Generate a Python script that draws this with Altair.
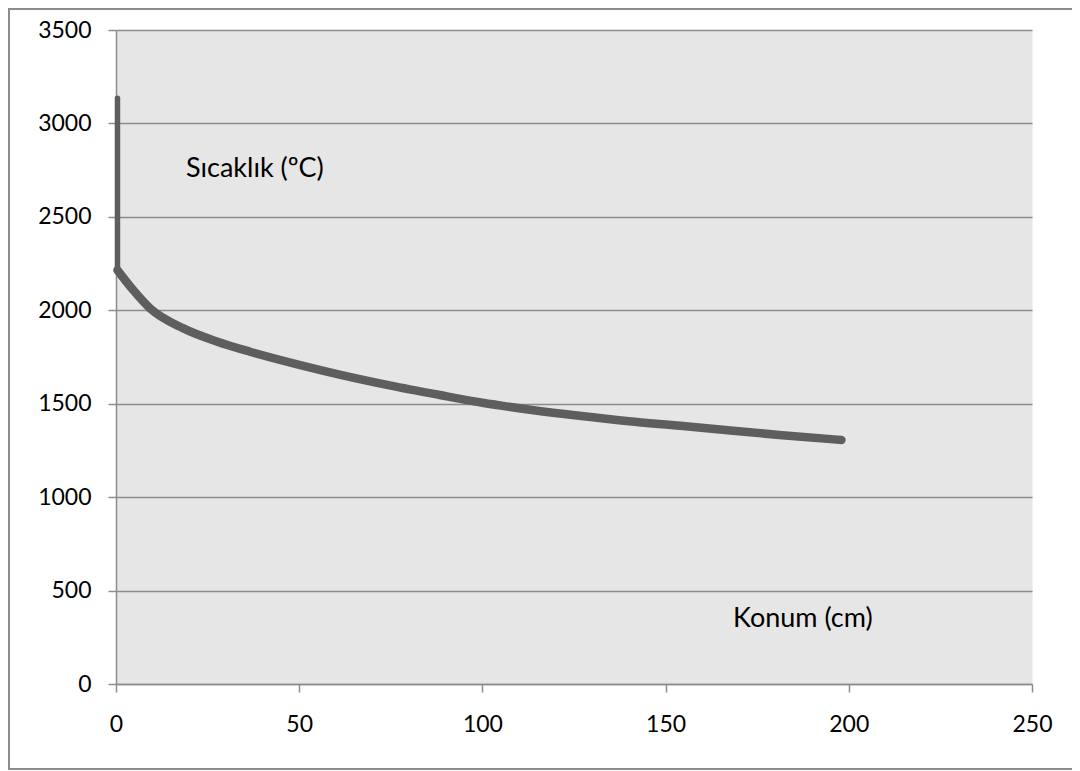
import altair as alt
import pandas as pd

# Data
# vertical start segment (x ~ 0)
dik_konum = [0.4, 0.4]
dik_sicaklik = [3135, 2215]
# decaying curve
konum = [0.4, 4.7, 9.3, 18.4, 27.5, 36.6, 50, 61, 75, 88, 100,
         113, 127, 140, 154, 167, 181, 198]
sicaklik = [2215, 2108, 2010, 1903, 1833, 1778, 1708, 1656, 1597, 1548, 1505,
            1468, 1434, 1406, 1382, 1358, 1333, 1306]
x_ticks = [0, 50, 100, 150, 200, 250]
y_ticks = [0, 500, 1000, 1500, 2000, 2500, 3000, 3500]

label_text = ["Sıcaklık (ºC)", "Konum (cm)"]
label_x = [19.1, 168.4]
label_y = [2713, 305]

df = pd.concat([
    pd.DataFrame({"konum": dik_konum, "sicaklik": dik_sicaklik, "parca": "dik"}),
    pd.DataFrame({"konum": konum, "sicaklik": sicaklik, "parca": "egri"}),
], ignore_index=True)
df["sira"] = list(range(len(df)))
lab = pd.DataFrame({"x": label_x, "y": label_y, "t": label_text})

FONT = "Lato"
GRAY = "#8c8c8c"

xs = alt.Scale(domain=[0, 250], nice=False)
ys = alt.Scale(domain=[0, 3500], nice=False)

line = alt.Chart(df).mark_line(
    color="#5e5e5e", strokeCap="round", strokeJoin="round", interpolate="monotone"
).encode(
    x=alt.X("konum:Q", scale=xs,
            axis=alt.Axis(values=x_ticks, title=None, grid=False, format="d",
                          labelPadding=21, labelFlush=False)),
    y=alt.Y("sicaklik:Q", scale=ys,
            axis=alt.Axis(values=y_ticks, title=None, grid=True, format="d",
                          labelPadding=17)),
    detail="parca:N",
    strokeWidth=alt.StrokeWidth("parca:N", scale=alt.Scale(domain=["dik", "egri"], range=[5.5, 8.5]),
                                legend=None),
    order="sira:O",
)

texts = alt.Chart(lab).mark_text(
    align="left", baseline="alphabetic", font=FONT, fontSize=27, color="#000000"
).encode(
    x=alt.X("x:Q", scale=xs),
    y=alt.Y("y:Q", scale=ys),
    text="t:N",
)

frame = alt.Chart(pd.DataFrame({"a": [0]})).mark_rect(
    fill="transparent", stroke=GRAY, strokeWidth=2
).encode(
    x=alt.value(-107), x2=alt.value(1300),
    y=alt.value(-21), y2=alt.value(739),
)

chart = alt.layer(frame, line, texts).properties(
    width=916, height=654,
    autosize=alt.AutoSizeParams(type="none"),
    padding={"left": 108, "top": 22, "right": 40, "bottom": 86},
    background="#ffffff",
).configure_view(
    fill="#e6e6e6", stroke="transparent"
).configure_axis(
    domainColor=GRAY, domainWidth=1.5,
    tickColor=GRAY, tickWidth=1.5, tickSize=8,
    gridColor=GRAY, gridWidth=1.5,
    labelFont=FONT, labelFontSize=23, labelColor="#000000",
)

chart.save("out.html", embed_options={"renderer": "svg", "actions": False})
